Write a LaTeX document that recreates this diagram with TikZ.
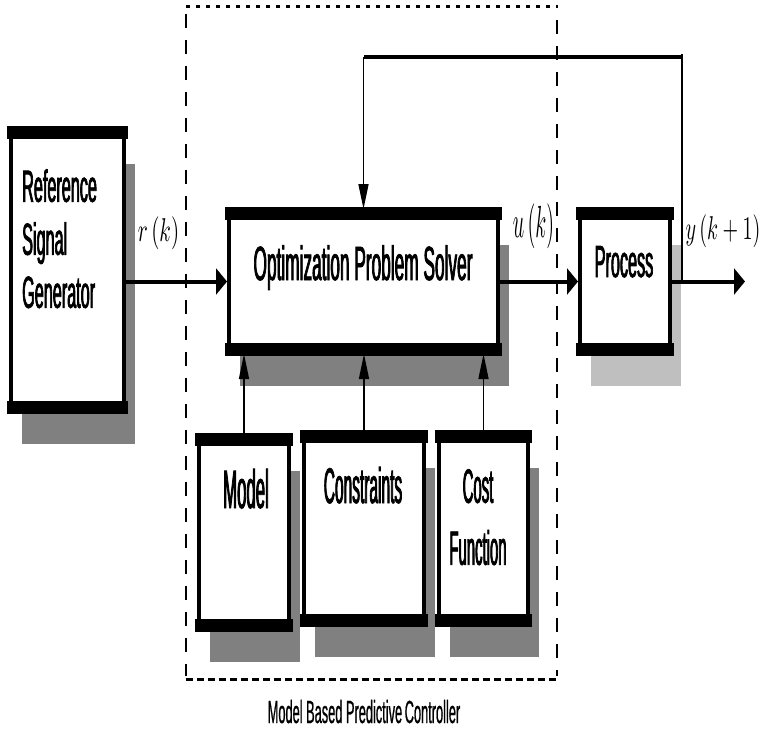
\documentclass[tikz,border=0pt]{standalone}
\usepackage{amsmath,amssymb}
\usepackage{fontspec}
\usepackage{tikz}
\usetikzlibrary{arrows.meta,shadows}
\newfontfamily\blockfont{Liberation Sans}[FakeStretch=0.36,FakeBold=1.5]
\newfontfamily\tallfont{Liberation Sans}[FakeStretch=0.31,FakeBold=1.5]
\newfontfamily\capfont{Liberation Sans}[FakeStretch=0.40,FakeBold=0.6]

\begin{document}
\begin{tikzpicture}[x=1pt,y=1pt,
  block/.style={draw=black, fill=white, line width=4pt,
    drop shadow={shadow xshift=11pt, shadow yshift=-34pt, fill=#1, opacity=1}},
  block/.default=black!50]
\tikzstyle{every node}+=[inner sep=0pt]
\tikzstyle{sig}=[line width=4pt, -{Triangle[length=11pt,width=26pt]}]
\tikzstyle{feed}=[line width=1.5pt, -{Triangle[length=25pt,width=10pt]}]
\useasboundingbox (0,0) rectangle (760,-731);
\node [block, minimum width=113pt, minimum height=280pt] (gen) at (67.5,-270) {};
\node [block, minimum width=269pt, minimum height=141pt] (ops) at (363.5,-281.5) {};
\node [block=black!25, minimum width=90pt, minimum height=141pt] (proc) at (625,-281.5) {};
\node [block, minimum width=90pt, minimum height=191pt] (model) at (244,-532.5) {};
\node [block, minimum width=120pt, minimum height=189pt] (cons) at (364,-528.5) {};
\node [block, minimum width=89pt, minimum height=189pt] (cost) at (483.5,-528.5) {};
\foreach \b in {gen,ops,proc,model,cons,cost}{
  \fill ([shift={(-2pt,2pt)}]\b.north west) rectangle ([shift={(2pt,-11pt)}]\b.north east);
  \fill ([shift={(-2pt,-2pt)}]\b.south west) rectangle ([shift={(2pt,11pt)}]\b.south east);
}
\node [anchor=north west, align=left, font=\blockfont\fontsize{45}{53}\selectfont] (gen-txt) at (22,-169) {Reference\\Signal\\Generator};
\node [anchor=base, font=\blockfont\fontsize{48}{56}\selectfont] (ops-txt) at (363,-280) {Optimization Problem Solver};
\node [anchor=base, font=\blockfont\fontsize{45}{52}\selectfont] (proc-txt) at (624,-277) {Process};
\node [anchor=base, font=\tallfont\fontsize{54}{60}\selectfont] (model-txt) at (246,-508) {Model};
\node [anchor=base, font=\tallfont\fontsize{50}{56}\selectfont] (cons-txt) at (363,-503) {Constraints};
\node [anchor=north, align=center, font=\tallfont\fontsize{48}{62}\selectfont] (cost-txt) at (478,-469) {Cost\\Function};
\node [anchor=base, font=\capfont\fontsize{32}{38}\selectfont] (mbpc) at (364,-723) {Model Based Predictive\hspace{0.08em}Controller};
\node (r-lbl) at (158.5,-233.5) {\scalebox{2.1}[3.3]{$r\left(k\right)$}};
\node (u-lbl) at (533.5,-226) {\scalebox{2.0}[4.5]{$u\left(k\right)$}};
\node (y-lbl) at (723,-231.5) {\scalebox{2.0}[3.3]{$y\left(k + 1\right)$}};
\coordinate (out) at (745,-281.5);
\coordinate (tap) at (682,-281.5);
\coordinate (fb) at (682,-57);
\draw [sig] (gen.east |- ops.west) -- (ops.west);
\draw [sig] (ops.east) -- (proc.west);
\draw [sig] (proc.east) -- (out);
\draw [line width=1.5pt] (tap) -- ([yshift=3pt]fb);
\draw [line width=4pt] (fb) -- (fb -| ops.north);
\draw [feed] (fb -| ops.north) -- (ops.north);
\foreach \b in {model,cons,cost}
  \draw [feed] (\b.north) -- (\b.north |- ops.south);
\draw [line width=3pt, dash pattern=on 4pt off 6pt] (186,-6) -- (558,-6);
\draw [line width=1.5pt, dash pattern=on 14pt off 12pt] (186,-14) -- (186,-676);
\draw [line width=1.5pt, dash pattern=on 14pt off 12pt] (557,-20) -- (557,-676);
\draw [line width=3pt, dash pattern=on 7pt off 4pt] (186,-679) -- (558,-679);
\end{tikzpicture}
\end{document}
